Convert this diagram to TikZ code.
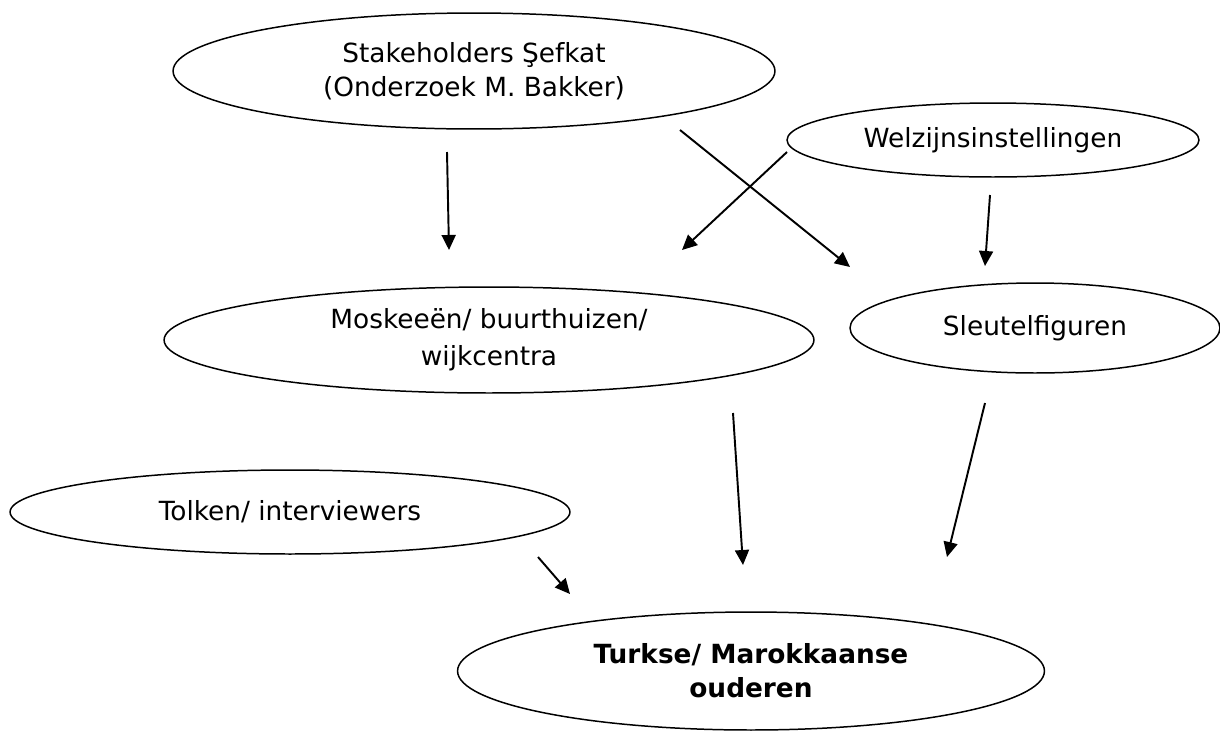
\documentclass[tikz,border=0pt]{standalone}
\usepackage{fontspec}
\setmainfont{DejaVu Sans}
\newfontfamily\courierfont{Liberation Mono}
\usetikzlibrary{shapes.geometric,arrows.meta}
\begin{document}
\begin{tikzpicture}[x=0.02cm,y=-0.02cm,
  oval/.style={ellipse,draw,line width=0.85pt,inner sep=0pt,align=center,font=\fontsize{15}{19.3}\selectfont},
  arr/.style={-{Triangle[length=0.3cm,width=0.28cm]},line width=1.1pt}]
  \useasboundingbox (0,0) rectangle (1220,731);
  \node[oval,minimum width=12.04cm,minimum height=2.32cm] (stake) at (474,71) {Stakeholders Şefkat\\(Onderzoek M. Bakker)};
  \node[oval,minimum width=8.24cm,minimum height=1.48cm] (welzijn) at (993,140) {Welzijnsinstellinge{\courierfont n}};
  \node[oval,minimum width=13cm,minimum height=2.12cm,font=\fontsize{15}{21}\selectfont] (moskee) at (489,340) {Moskeeën/ buurthuizen/\\wijkcentra};
  \node[oval,minimum width=7.4cm,minimum height=1.8cm] (sleutel) at (1035,328) {Sleutelfiguren};
  \node[oval,minimum width=11.2cm,minimum height=1.68cm] (tolken) at (290,512) {Tolken/ interviewers};
  \node[oval,minimum width=11.74cm,minimum height=2.36cm,font=\fontsize{15}{19.3}\selectfont\bfseries] (turkse) at (751,671) {Turkse/ Marokkaanse\\ouderen};
  \foreach \n/\x/\y in {s1/447/152, e1/449/250, s2/680/130, e2/850/267, s3/787/152, e3/682/250,
                        s4/990/195, e4/985/266, s5/733/413, e5/743/565, s6/985/403, e6/947/557,
                        s7/538/557, e7/570/594} {
    \coordinate (\n) at (\x,\y);
  }
  \foreach \a/\b in {s1/e1, s2/e2, s3/e3, s4/e4, s5/e5, s6/e6, s7/e7} {
    \draw[arr] (\a) -- (\b);
  }
\end{tikzpicture}
\end{document}
